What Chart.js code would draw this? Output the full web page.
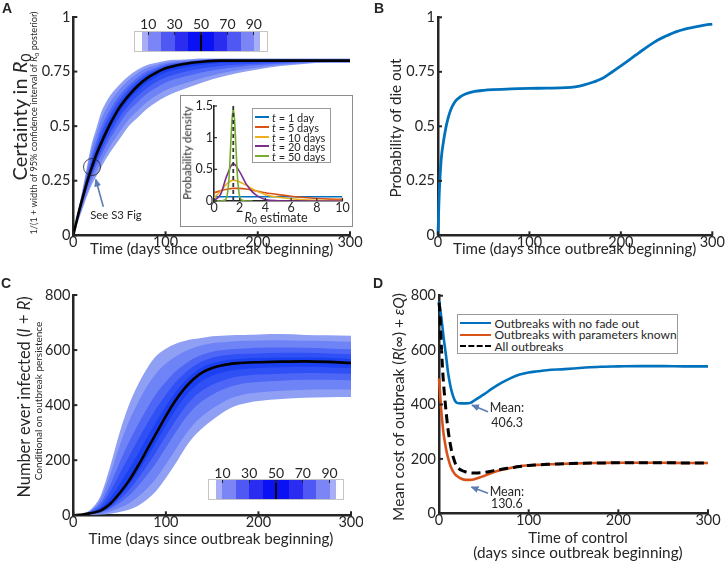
<!DOCTYPE html>
<html><head><meta charset="utf-8">
<script src="https://cdn.jsdelivr.net/npm/chart.js@4.4.1/dist/chart.umd.min.js"></script>
<style>
html,body{margin:0;padding:0;background:#fff;}
#wrap{position:relative;width:726px;height:561px;overflow:hidden;font-family:Lato,'Open Sans',sans-serif;color:#262626;background:#fff;}
#wrap canvas{position:absolute;}
.t{position:absolute;white-space:nowrap;line-height:1;}
.sub{font-size:70%;vertical-align:-0.3em;}
.box{position:absolute;background:#fff;border:1px solid #8c8c8c;box-sizing:border-box;}
</style></head>
<body><div id="wrap">
<canvas id="cA" width="363" height="280" style="left:0;top:0"></canvas>
<canvas id="cB" width="363" height="280" style="left:363px;top:0"></canvas>
<canvas id="cC" width="363" height="281" style="left:0;top:280px"></canvas>
<canvas id="cD" width="363" height="281" style="left:363px;top:280px"></canvas>
<div class="box" style="left:180px;top:95px;width:173px;height:132px"></div>
<canvas id="cI" width="171" height="130" style="left:181px;top:96px"></canvas>
</div>
<script>
// ---------------- DATA ----------------
// Panel A: certainty in R0 over time (percentile bands)
const timeA = [0,5,10,15,20,25,30,40,50,60,70,80,90,100,120,140,160,180,200,225,250,275,300];
const certP50 = [0,.09,.17,.245,.31,.37,.42,.51,.585,.64,.685,.72,.745,.765,.785,.795,.80,.80,.80,.80,.80,.80,.80];
const certP95 = [0,.11,.21,.32,.42,.49,.56,.64,.69,.73,.76,.78,.79,.80,.805,.81,.81,.81,.81,.81,.81,.81,.81];
const certP90 = [0,.106,.201,.304,.396,.464,.529,.611,.667,.71,.744,.767,.78,.792,.801,.807,.808,.808,.808,.808,.808,.808,.808];
const certP80 = [0,.10,.19,.283,.366,.431,.491,.576,.639,.686,.723,.751,.768,.783,.795,.803,.805,.805,.805,.805,.805,.805,.805];
const certP70 = [0,.096,.183,.269,.345,.408,.465,.552,.619,.669,.709,.739,.759,.776,.791,.80,.803,.803,.803,.803,.803,.803,.803];
const certP60 = [0,.093,.176,.256,.327,.388,.441,.53,.601,.654,.696,.729,.752,.77,.788,.797,.802,.802,.802,.802,.802,.802,.802];
const certP40 = [0,.085,.162,.235,.298,.355,.404,.49,.563,.619,.663,.699,.725,.746,.768,.781,.789,.792,.794,.796,.798,.799,.799];
const certP30 = [0,.08,.154,.224,.284,.338,.385,.468,.539,.595,.639,.675,.702,.723,.748,.765,.776,.782,.787,.792,.795,.797,.797];
const certP20 = [0,.075,.144,.212,.269,.319,.364,.444,.511,.569,.611,.649,.676,.699,.726,.747,.762,.772,.78,.787,.792,.795,.795];
const certP10 = [0,.067,.131,.194,.248,.292,.334,.409,.472,.531,.572,.611,.64,.664,.695,.721,.742,.757,.769,.781,.788,.792,.792];
const certP5  = [0,.06,.12,.18,.23,.27,.31,.38,.44,.50,.54,.58,.61,.635,.67,.70,.725,.745,.76,.775,.785,.79,.79];

// Inset: posterior densities of R0
const r0Grid = [0,0.5,1,1.5,2,2.5,3,3.5,4,5,6,7,8,9,10];
const dens1  = [.067,.067,.067,.067,.067,.067,.067,.067,.067,.067,.067,.067,.067,.067,.067];
const dens5  = [.13,.16,.185,.2,.2,.19,.17,.15,.13,.1,.075,.055,.04,.03,.025];
const dens10 = [.05,.15,.27,.33,.3,.25,.19,.14,.1,.06,.035,.02,.012,.008,.005];
const dens20 = [.01,.1,.4,.59,.46,.27,.14,.065,.025,.005,0,0,0,0,0];
const r0Fine = [0,.5,.9,1.1,1.2,1.3,1.4,1.5,1.6,1.7,1.8,1.9,2.1,2.5,3];
const dens50 = [0,0,.02,.2,.47,.88,1.28,1.45,1.28,.88,.47,.2,.02,0,0];
const trueR0 = 1.5;
const insetDays = [1,5,10,20,50];

// Panel B: probability of die out
const timeB = [0,1,2,3,4,6,8,10,13,16,20,25,30,40,50,60,80,100,120,140,150,160,170,180,190,200,210,220,230,240,250,260,270,280,290,300];
const probDie = [0,.15,.25,.32,.37,.43,.48,.52,.565,.595,.62,.637,.648,.66,.665,.668,.672,.674,.675,.677,.681,.69,.703,.72,.748,.777,.807,.838,.868,.895,.915,.933,.946,.955,.963,.969];

// Panel C: number ever infected (percentile bands)
const timeC = [0,10,20,30,40,50,60,70,80,90,100,110,120,130,140,150,160,170,180,190,200,225,250,275,300];
const infP50 = [0,3,8,18,42,80,125,180,240,300,360,415,460,495,520,535,544,550,553,555,556,558,559,557,553];
const infP95 = [0,5,25,75,180,300,400,475,535,580,605,622,633,640,645,650,652,654,655,656,657,658,655,654,652];
const infP90 = [0,4.6,21,62,150,252,340,410,470,518,551,576,595,608,618,625,628,631,633,634,635,636,634,633,630];
const infP80 = [0,4,17,47,112,192,265,330,390,443,485,521,548,569,584,594,599,603,605,607,608,609,608,606,603];
const infP70 = [0,3.6,13,36,86,150,213,274,334,390,438,481,515,541,560,572,579,583,586,587,588,590,590,588,585];
const infP60 = [0,3.3,11,27,63,113,166,224,284,342,397,446,486,517,539,552,560,566,568,570,571,573,573,572,568];
const infP40 = [0,2.5,7,16,37,70,109,158,213,268,326,380,427,463,490,507,518,526,530,533,535,538,539,538,535];
const infP30 = [0,2,5.8,13,30,58,91,134,182,233,288,341,390,428,455,474,488,499,505,509,511,514,517,516,514];
const infP20 = [0,1.5,4.4,10,24,45,71,106,147,193,245,298,348,388,417,438,455,468,476,481,484,489,492,492,490];
const infP10 = [0,.7,2.5,6,14,27,43,67,98,136,185,236,288,331,362,387,408,425,435,442,446,452,456,457,457];
const infP5  = [0,0,1,3,6,12,20,35,58,90,135,185,240,285,318,345,370,390,402,410,415,422,427,429,430];

// Panel D: mean cost of outbreak vs time of control
const timeD = [0,1,2,3,4,5,6,8,10,12,14,16,18,20,25,30,35,40,50,60,70,80,90,100,110,120,140,160,180,200,225,250,275,300];
const costNoFade = [780,760,735,710,680,650,625,575,520,480,450,428,413,406,404,404,406,416,437,460,480,497,510,518,522,526,530,535,539,540,541,541,540,540];
const costKnown  = [496,450,400,360,325,295,272,235,205,182,165,152,143,137,127,123,123,126,137,150,160,167,173,176,178,180,182,184,185,186,186,186,185,185];
const costAll    = [775,740,660,590,530,480,440,370,310,265,230,205,185,172,158,152,149,148,150,156,162,167,172,176,178,180,182,184,185,186,186,186,185,185];
const seriesNamesD = ['All outbreaks','Outbreaks with no fade out','Outbreaks with parameters known'];
const meanLabels = ['406.3','130.6'];

// Ticks
const xTicksTime = [0,100,200,300];
const yTicksA = [0,0.25,0.5,0.75,1];
const yTicksB = [0,0.25,0.5,0.75,1];
const yTicksC = [0,200,400,600,800];
const yTicksD = [0,200,400,600,800];
const xTicksInset = [0,2,4,6,8,10];
const yTicksInset = [0,0.5,1,1.5];
const cbEdges = [5,10,20,30,40,50,60,70,80,90,95];
const cbTicks = [10,30,50,70,90];

// ---------------- STYLE ----------------
const AX = '#262626', TXT = '#262626';
const bandCols = ['#8fa0f4','#6e83f6','#4d66f6','#2f50f4','#1a40f2'];
const cbCols = ['#a7aef6','#7c85f6','#5058f4','#2a2cf0','#0a12f4','#0a12f4','#2a2cf0','#5058f4','#7c85f6','#a7aef6'];
const ML = {blue:'#0072BD', orange:'#D95319', yellow:'#EDB120', purple:'#7E2F8E', green:'#77AC30'};
Chart.defaults.font.family = 'Lato';
Chart.defaults.color = TXT;

const inTicks = {
  id:'inTicks',
  afterDatasetsDraw(chart, args, o){
    const {ctx, chartArea:a} = chart, xs = chart.scales.x, ys = chart.scales.y;
    ctx.save(); ctx.strokeStyle = o.color || AX; ctx.lineWidth = o.width || 2;
    const L = o.len || 4;
    xs.ticks.forEach(t=>{const p=xs.getPixelForValue(t.value); ctx.beginPath(); ctx.moveTo(p,a.bottom); ctx.lineTo(p,a.bottom-L); ctx.stroke();});
    ys.ticks.forEach(t=>{const p=ys.getPixelForValue(t.value); ctx.beginPath(); ctx.moveTo(a.left,p); ctx.lineTo(a.left+L,p); ctx.stroke();});
    ctx.restore();
  }
};

function scales(xT, yT, xr, yr, yW, xH, fs, bw, pad){
  return {
    x:{type:'linear',min:xr[0],max:xr[1],grid:{display:false,drawTicks:false},border:{display:true,color:AX,width:bw},
       ticks:{font:{size:fs},color:TXT,padding:pad[0],maxRotation:0,autoSkip:false,callback:v=>String(v)},
       afterBuildTicks:s=>{s.ticks=xT.map(v=>({value:v}));},
       afterFit:s=>{s.height=xH;s.paddingLeft=0;s.paddingRight=0;}},
    y:{type:'linear',min:yr[0],max:yr[1],grid:{display:false,drawTicks:false},border:{display:true,color:AX,width:bw},
       ticks:{font:{size:fs},color:TXT,padding:pad[1],autoSkip:false,callback:v=>String(v)},
       afterBuildTicks:s=>{s.ticks=yT.map(v=>({value:v}));},
       afterFit:s=>{s.width=yW;s.paddingTop=0;s.paddingBottom=0;}}
  };
}
function baseOpts(sc, padding, tick){
  return {responsive:false,animation:false,devicePixelRatio:1,layout:{padding},
    plugins:{legend:{display:false},tooltip:{enabled:false},inTicks:tick||{len:4,width:2}},
    elements:{point:{radius:0}}, scales:sc};
}
const pts = (xs, ys) => xs.map((x,i)=>({x, y:ys[i]}));
function bands(t, p50, p5,p10,p20,p30,p40,p60,p70,p80,p90,p95){
  const edge = (a, fill, bg) => ({data:pts(t,a),borderWidth:0,borderColor:'rgba(0,0,0,0)',backgroundColor:bg||'rgba(0,0,0,0)',fill:fill===undefined?false:fill,cubicInterpolationMode:'monotone'});
  return [
    {data:pts(t,p50),borderColor:'#000',borderWidth:2.6,fill:false,cubicInterpolationMode:'monotone'},
    edge(p60,2,bandCols[4]), edge(p40),
    edge(p70,4,bandCols[3]), edge(p30),
    edge(p80,6,bandCols[2]), edge(p20),
    edge(p90,8,bandCols[1]), edge(p10),
    edge(p95,10,bandCols[0]), edge(p5)
  ];
}

// Panel A
new Chart(document.getElementById('cA'), {type:'line',
  data:{datasets:bands(timeA,certP50,certP5,certP10,certP20,certP30,certP40,certP60,certP70,certP80,certP90,certP95)},
  options:baseOpts(scales(xTicksTime,yTicksA,[0,300],[0,1],73.3,44.7,14.5,2.5,[-2,3]),{left:0,top:17,right:13,bottom:0}),
  plugins:[inTicks]});
// Panel B
new Chart(document.getElementById('cB'), {type:'line',
  data:{datasets:[{data:pts(timeB,probDie),borderColor:ML.blue,borderWidth:2.8,fill:false,cubicInterpolationMode:'monotone',clip:4}]},
  options:baseOpts(scales(xTicksTime,yTicksB,[0,300],[0,1],75,44.7,14.5,2.5,[-2,3]),{left:0,top:17.3,right:13.7,bottom:0}),
  plugins:[inTicks]});
// Panel C
new Chart(document.getElementById('cC'), {type:'line',
  data:{datasets:bands(timeC,infP50,infP5,infP10,infP20,infP30,infP40,infP60,infP70,infP80,infP90,infP95)},
  options:baseOpts(scales(xTicksTime,yTicksC,[0,300],[0,800],73.3,45.7,14.5,2.5,[-2,3]),{left:0,top:15,right:12,bottom:0}),
  plugins:[inTicks]});
// Panel D
new Chart(document.getElementById('cD'), {type:'line',
  data:{datasets:[
    {label:seriesNamesD[0],data:pts(timeD,costAll),borderColor:'#000',borderWidth:3,borderDash:[9,5],fill:false,cubicInterpolationMode:'monotone',clip:4},
    {label:seriesNamesD[1],data:pts(timeD,costNoFade),borderColor:ML.blue,borderWidth:2.6,fill:false,cubicInterpolationMode:'monotone',clip:4},
    {label:seriesNamesD[2],data:pts(timeD,costKnown),borderColor:ML.orange,borderWidth:2.6,fill:false,cubicInterpolationMode:'monotone',clip:4}]},
  options:baseOpts(scales(xTicksTime,yTicksD,[0,300],[0,800],76,47.7,14.5,2.5,[-2,3]),{left:0,top:15.7,right:18,bottom:0}),
  plugins:[inTicks]});
// Inset
const insetSeries = [dens1,dens5,dens10,dens20];
const insetCols = [ML.blue,ML.orange,ML.yellow,ML.purple,ML.green];
const insetDs = [{data:[{x:trueR0,y:0},{x:trueR0,y:1.5}],borderColor:'#333',borderWidth:1.8,borderDash:[4,3],fill:false}];
insetDs.push({data:pts(r0Fine,dens50),borderColor:ML.green,borderWidth:1.6,fill:false,cubicInterpolationMode:'monotone'});
for (let i=3;i>=0;i--) insetDs.push({data:pts(r0Grid,insetSeries[i]),borderColor:insetCols[i],borderWidth:1.6,fill:false,cubicInterpolationMode:'monotone'});
new Chart(document.getElementById('cI'), {type:'line', data:{datasets:insetDs},
  options:baseOpts(scales(xTicksInset,yTicksInset,[0,10],[0,1.5],33,25,12.5,1.6,[-1,1]),{left:0,top:10,right:9.5,bottom:0},{len:3,width:1.2}),
  plugins:[inTicks]});

// ---------------- TEXT / OVERLAYS ----------------
const wrap = document.getElementById('wrap');
function T(html, cx, cy, o={}){
  const d=document.createElement('div'); d.className='t'; d.innerHTML=html;
  const s=o.size||14; d.style.fontSize=s+'px';
  if(o.bold) d.style.fontWeight='bold'; if(o.family) d.style.fontFamily=o.family; if(o.color) d.style.color=o.color;
  wrap.appendChild(d);
  if(o.w){ const w=d.offsetWidth; d.style.fontSize=(Math.round(s*o.w/w*10)/10)+'px'; }
  d.style.left=cx+'px'; d.style.top=cy+'px';
  d.style.transform='translate('+(o.left?'0':'-50%')+',-50%)'+(o.rot?' rotate(-90deg)':'');
  return d;
}
const R0 = '<i>R</i><span class="sub">0</span>';
// Panel letters
T('A',7,8,{size:14,bold:true,family:'Liberation Sans'});
T('B',379,8,{size:14,bold:true,family:'Liberation Sans'});
T('C',6,283,{size:14,bold:true,family:'Liberation Sans'});
T('D',378,283,{size:14,bold:true,family:'Liberation Sans'});
// Axis titles
const xTitle = 'Time (days since outbreak beginning)';
T(xTitle,211.7,249,{w:243});
T(xTitle,574.7,249,{w:243});
T(xTitle,211,538.5,{w:245});
T('Time of control',578,537,{w:99});
T('(days since outbreak beginning)',578,553,{w:210});
T('Certainty in '+R0,21,117,{rot:true,w:127});
T('1/(1 + width of 95% confidence interval of '+R0+' posterior)',35,123,{rot:true,w:223});
T('Probability of die out',396,127.5,{rot:true,w:139});
T('Number ever infected (<i>I</i> + <i>R</i>)',24,396.5,{rot:true,w:202});
T('Conditional on outbreak persistence',38,401,{rot:true,w:158});
T('Mean cost of outbreak (<i>R</i>(∞) + <i>εQ</i>)',399,406.7,{rot:true,w:227});
// Inset titles
T('Probability density',186.5,153,{rot:true,size:11.5});
T(R0+' estimate',276,219,{w:63});
// Inset legend
(function(){
  const b=document.createElement('div'); b.className='box'; b.style.cssText+='left:252px;top:108px;width:79px;height:55px;border-color:#9a9a9a';
  wrap.appendChild(b);
  insetDays.forEach((d,i)=>{
    const y=117+i*9.75;
    const l=document.createElement('div'); l.style.cssText=`position:absolute;left:255px;top:${y-1}px;width:14px;height:2px;background:${insetCols[i]}`; wrap.appendChild(l);
    T('<i>t</i> = '+d+(d===1?' day':' days'),272,y,{left:true,size:11});
  });
})();
// Panel D legend
(function(){
  const b=document.createElement('div'); b.className='box'; b.style.cssText+='left:457px;top:314px;width:221px;height:40px;border-color:#9a9a9a';
  wrap.appendChild(b);
  const rows=[[seriesNamesD[1],ML.blue,false],[seriesNamesD[2],ML.orange,false],[seriesNamesD[0],'#000',true]];
  rows.forEach((r,i)=>{
    const y=323.5+i*11.6;
    const l=document.createElement('div');
    l.style.cssText=`position:absolute;left:460px;top:${y-1.3}px;width:31px;height:0;border-top:2.6px ${r[2]?'dashed':'solid'} ${r[1]}`;
    wrap.appendChild(l);
    T(r[0],494.5,y,{left:true,size:12});
  });
})();
// Colorbars
function colorbar(x,y,w,h,ly){
  const bar=document.createElement('div');
  bar.style.cssText=`position:absolute;left:${x}px;top:${y}px;width:${w}px;height:${h}px;border:1px solid #c4c4c4;box-sizing:border-box;background:#fff;`;
  for(let i=0;i<cbEdges.length-1;i++){
    const s=document.createElement('div'); const a=cbEdges[i], c=cbEdges[i+1];
    s.style.cssText=`position:absolute;top:0;bottom:0;left:${a}%;width:${c-a}%;background:${cbCols[i]}`; bar.appendChild(s);
  }
  const m=document.createElement('div'); m.style.cssText='position:absolute;top:0;bottom:0;left:calc(50% - 0.75px);width:1.5px;background:#000'; bar.appendChild(m);
  cbTicks.forEach(v=>{const k=document.createElement('div'); k.style.cssText=`position:absolute;top:0;height:3px;left:calc(${v}% - 0.6px);width:1.2px;background:#222`; bar.appendChild(k);});
  wrap.appendChild(bar);
  cbTicks.forEach(v=>T(String(v),x+1+(w-2)*v/100,ly,{size:14}));
}
colorbar(134,31,134,21,24);
colorbar(208,479,136,21,472.5);
// Annotations
const ns='http://www.w3.org/2000/svg';
const svg=document.createElementNS(ns,'svg'); svg.setAttribute('width','726'); svg.setAttribute('height','561');
svg.style.cssText='position:absolute;left:0;top:0;';
svg.innerHTML=`<defs><marker id="ah" markerUnits="userSpaceOnUse" markerWidth="8" markerHeight="7" refX="7" refY="3.5" orient="auto"><path d="M0,0 L8,3.5 L0,7 z" fill="#5b7db5"/></marker></defs>
<circle cx="92" cy="167" r="8.5" fill="none" stroke="#222" stroke-width="0.8"/>
<line x1="103.3" y1="206.7" x2="95.8" y2="179.5" stroke="#5b7db5" stroke-width="1.6" marker-end="url(#ah)"/>
<line x1="488" y1="411.7" x2="472" y2="405.2" stroke="#5b7db5" stroke-width="1.6" marker-end="url(#ah)"/>
<line x1="488" y1="493.3" x2="471.5" y2="487" stroke="#5b7db5" stroke-width="1.6" marker-end="url(#ah)"/>`;
wrap.appendChild(svg);
T('See S3 Fig',116,215,{w:51.7});
T('Mean:',489.7,408.3,{left:true,w:34});
T(meanLabels[0],491.3,422.7,{left:true,w:32});
T('Mean:',489.7,491.7,{left:true,w:34});
T(meanLabels[1],491,504,{left:true,w:32});
</script>
</body></html>
